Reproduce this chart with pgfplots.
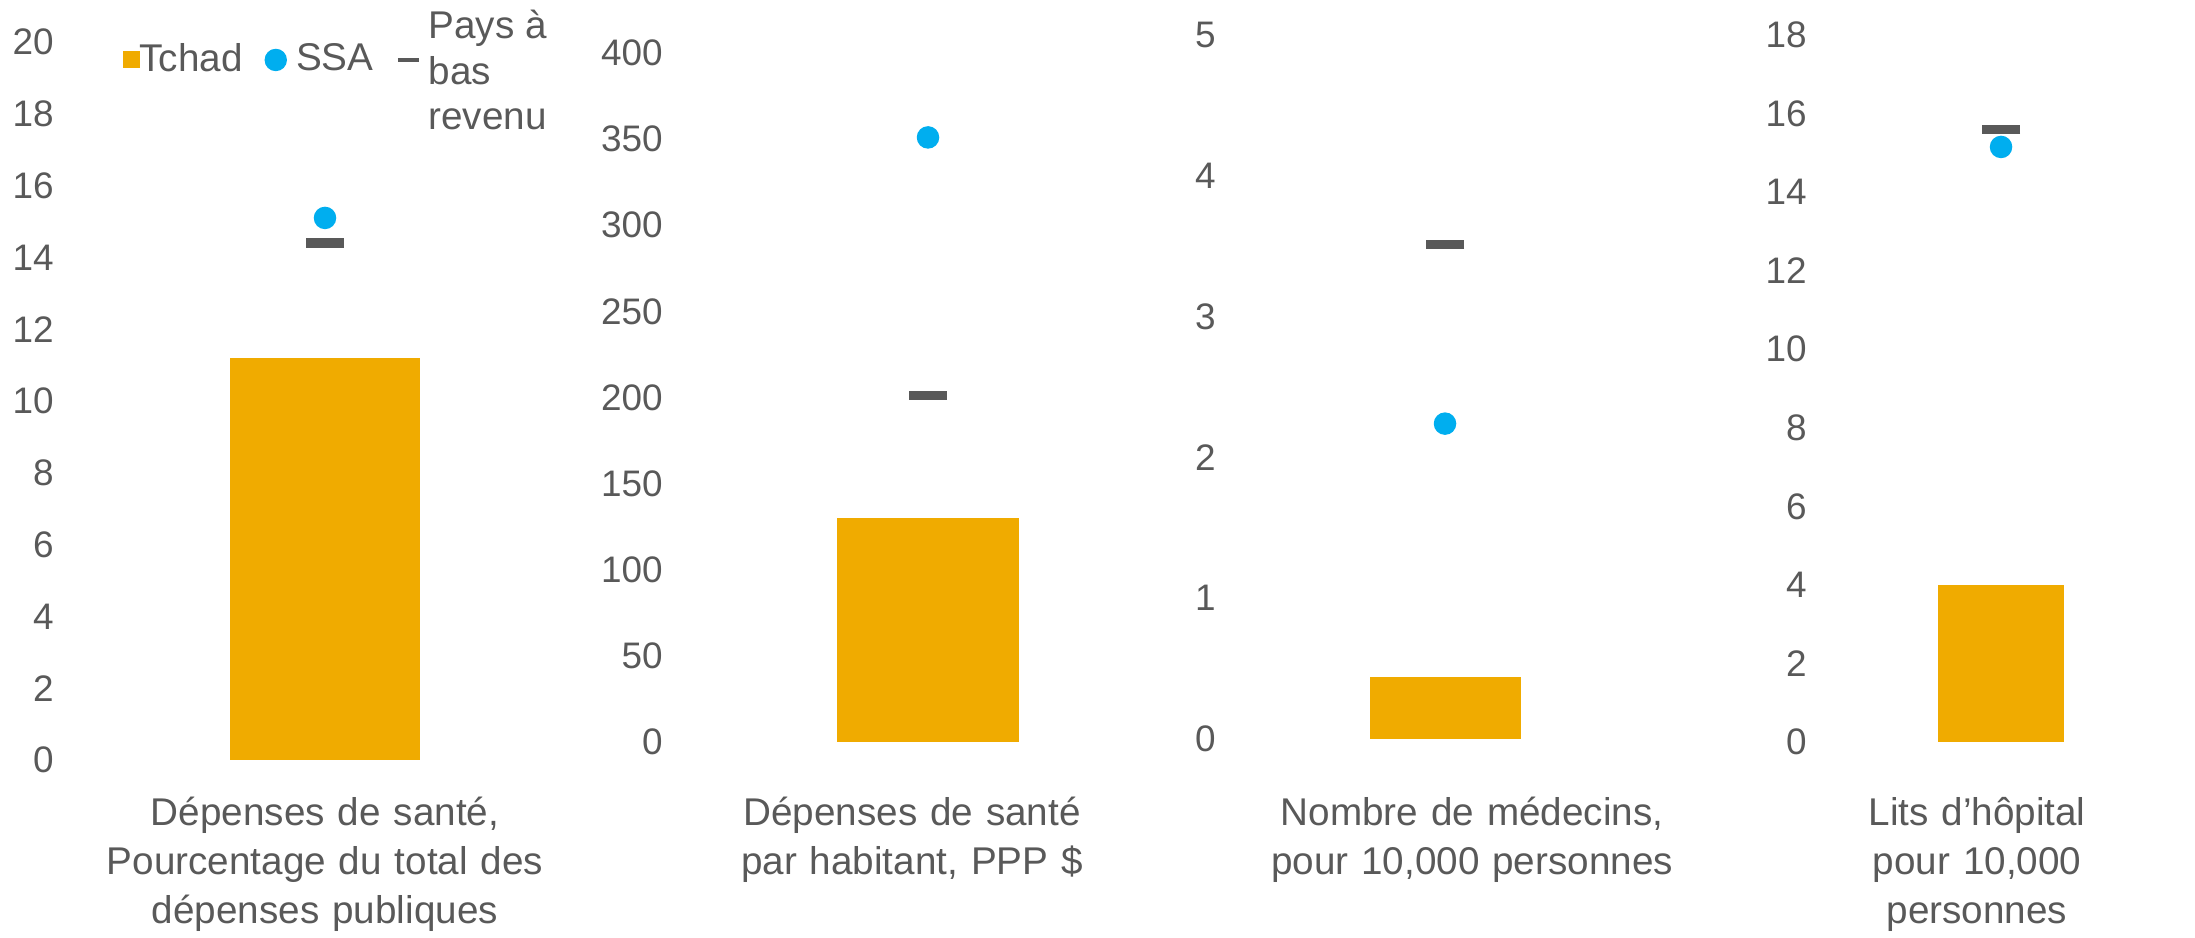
\documentclass[border=0pt]{standalone}
\usepackage{fontspec}
\setmainfont{Liberation Sans}
\newfontfamily\catfont[WordSpace=1.2]{Liberation Sans}
\usepackage{pgfplots}
\pgfplotsset{compat=1.18}
\definecolor{tchad}{HTML}{F0AB00}
\definecolor{ssa}{HTML}{00AEEF}
\definecolor{lic}{HTML}{595959}
\definecolor{txt}{HTML}{595959}
\pgfplotsset{
  panel/.style={
    scale only axis, anchor=south west,
    xmin=-1, xmax=1, ymin=0,
    axis line style={draw=none},
    major tick length=0pt,
    tick style={draw=none},
    xtick={0},
    yticklabel style={font=\fontsize{10.5}{12}\selectfont, text=txt},
    xticklabel style={font=\catfont\fontsize{11}{13.9}\selectfont, align=center, text=txt},
    /pgf/number format/assume math mode=true,
    clip=false,
  },
  barstyle/.style={ybar, bar width=#1, bar shift=0pt, fill=tchad, draw=none,
    legend image code/.code={\fill[tchad] (0cm,-0.085cm) rectangle (0.17cm,0.085cm);}},
  dotstyle/.style={only marks, mark=*, mark size=3pt, color=ssa,
    legend image code/.code={\fill[ssa] (0.105cm,0cm) circle (0.105cm); \path (0.31cm,0cm);}},
  dashstyle/.style={only marks, mark=-, mark size=5.4pt, mark options={line width=2.6pt}, color=lic,
    legend image code/.code={\draw[lic, line width=1.4pt] (0cm,0cm) -- (0.21cm,0cm); \path (0.31cm,0cm);}},
}
\begin{document}
\begin{tikzpicture}
\useasboundingbox (0,0) rectangle (21.95,9.37);
% Panel 1
\begin{axis}[panel, at={(0.66cm,1.77cm)}, width=5.18cm, height=7.18cm,
  ymax=20, ytick={0,2,...,20},
  xticklabels={{Dépenses de santé{,}\\Pourcentage du total des\\dépenses publiques}},
  xticklabel style={xshift=0.0cm, yshift=-0.25cm},
  legend columns=3,
  legend style={draw=none, fill=none, at={(0.089,0.975)}, anchor=west,
    font=\fontsize{11}{13}\selectfont, text=txt,
    /tikz/every even column/.append style={column sep=0.15cm},
    /tikz/every odd column/.append style={column sep=-0.08cm}},
]
\addplot[barstyle=1.9cm] coordinates {(0,11.2)};
\addlegendentry{Tchad}
\addplot[dotstyle] coordinates {(0,15.1)};
\addlegendentry{SSA}
\addplot[dashstyle] coordinates {(0,14.4)};
\addlegendentry{\raisebox{0.19cm}[0pt][0pt]{\begin{tabular}[t]{@{}l@{}}Pays à\\bas\\revenu\end{tabular}}}
\end{axis}
% Panel 2
\begin{axis}[panel, at={(6.75cm,1.95cm)}, width=5.06cm, height=6.89cm,
  ymax=400, ytick={0,50,...,400},
  xticklabels={{Dépenses de santé\\par habitant{,} PPP \$}},
  xticklabel style={xshift=-0.16cm, yshift=-0.43cm},
]
\addplot[barstyle=1.82cm] coordinates {(0,130)};
\addplot[dotstyle] coordinates {(0,351)};
\addplot[dashstyle] coordinates {(0,201)};
\end{axis}
% Panel 3
\begin{axis}[panel, at={(12.28cm,1.98cm)}, width=4.34cm, height=7.04cm,
  ymax=5, ytick={0,1,...,5},
  xticklabels={{Nombre de médecins{,}\\pour 10{,}000 personnes}},
  xticklabel style={xshift=0.27cm, yshift=-0.46cm},
]
\addplot[barstyle=1.51cm] coordinates {(0,0.44)};
\addplot[dotstyle] coordinates {(0,2.24)};
\addplot[dashstyle] coordinates {(0,3.51)};
\end{axis}
% Panel 4
\begin{axis}[panel, at={(18.19cm,1.95cm)}, width=3.64cm, height=7.07cm,
  ymax=18, ytick={0,2,...,18},
  xticklabels={{Lits d’hôpital\\pour 10{,}000\\personnes}},
  xticklabel style={xshift=-0.24cm, yshift=-0.43cm},
]
\addplot[barstyle=1.26cm] coordinates {(0,4.0)};
\addplot[dotstyle] coordinates {(0,15.15)};
\addplot[dashstyle] coordinates {(0,15.6)};
\end{axis}
\end{tikzpicture}
\end{document}
